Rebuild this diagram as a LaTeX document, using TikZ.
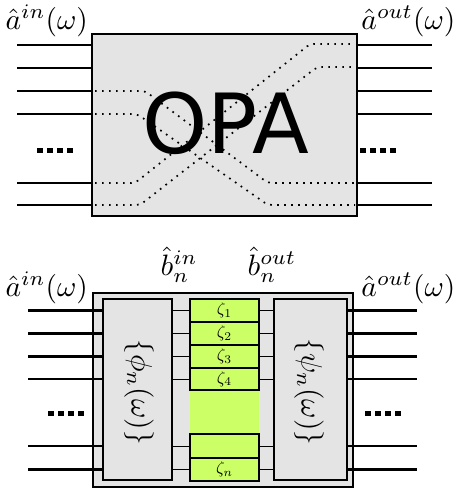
\documentclass[tikz,border=0pt]{standalone}
\usepackage{fontspec}
\newfontfamily\opafont{DejaVu Sans}
\definecolor{boxgray}{RGB}{228,228,228}
\definecolor{zgreen}{RGB}{204,255,102}
\begin{document}
\begin{tikzpicture}[x=1pt,y=-1pt,
  wire/.style={line width=2.6pt},
  thinwire/.style={line width=0.9pt},
  graybox/.style={draw, line width=2.4pt, fill=boxgray, inner sep=0pt},
  zbox/.style={draw, line width=2.4pt, fill=zgreen, inner sep=0pt, minimum width=69pt},
  zlab/.style={inner sep=0pt, scale=1.7},
  dotpath/.style={line width=1.7pt, dash pattern=on 1.7pt off 5.3pt, rounded corners=4pt},
  ellip/.style={line width=5pt, dash pattern=on 5.5pt off 4.5pt},
  lab/.style={inner sep=0pt, scale=2.95}
]
\useasboundingbox (0,0) rectangle (458,491);

% ---------- top panel ----------
\node[graybox, minimum width=265pt, minimum height=182pt] (opa) at (224.5,125) {};
\foreach \n/\y in {1/45,2/68,3/91,4/114,5/183,6/205}{
  \coordinate (tl\n) at (17,\y);
  \coordinate (tr\n) at (432,\y);
  \draw[wire] (tl\n) -- (opa.west |- tl\n);
  \draw[wire] (opa.east |- tr\n) -- (tr\n);
}
\draw[dotpath] (95,91) -- (145,91) -- (268,183) -- (355,183);
\draw[dotpath] (95,114) -- (137,114) -- (268,205) -- (355,205);
\draw[dotpath] (95,183) -- (135,183) -- (310,44) -- (355,44);
\draw[dotpath] (95,205) -- (140,205) -- (317,67) -- (355,67);
\node[inner sep=0pt, font=\opafont\fontsize{83}{83}\selectfont] (opatext) at (226,123) {OPA};
\coordinate (tdl1) at (37,150); \coordinate (tdl2) at (75,150);
\coordinate (tdr1) at (360,150); \coordinate (tdr2) at (398,150);
\draw[ellip] (tdl1) -- (tdl2);
\draw[ellip] (tdr1) -- (tdr2);
\node[lab, anchor=base west] (ain1) at (5,29) {$\hat{a}^{in}(\omega)$};
\node[lab, anchor=base east] (aout1) at (456,29) {$\hat{a}^{out}(\omega)$};

% ---------- bottom panel ----------
\node[graybox, minimum width=260pt, minimum height=194pt] (outer) at (223,390) {};
\node[graybox, minimum width=69pt, minimum height=181pt] (leftin) at (137.5,389.5) {};
\node[graybox, minimum width=73pt, minimum height=181pt] (rightin) at (310.5,389.5) {};
\fill[zgreen] (190,300) rectangle (259,480);
\node[zbox, minimum height=23pt] (z1) at (224.5,310.5) {};
\node[zbox, minimum height=23pt] (z2) at (224.5,333.5) {};
\node[zbox, minimum height=23pt] (z3) at (224.5,356.5) {};
\node[zbox, minimum height=22pt] (z4) at (224.5,379) {};
\node[zbox, minimum height=24pt] (z5) at (224.5,446) {};
\node[zbox, minimum height=23pt] (z6) at (224.5,469.5) {};
\node[zlab] (zl1) at (z1) {$\zeta_1$};
\node[zlab] (zl2) at (z2) {$\zeta_2$};
\node[zlab] (zl3) at (z3) {$\zeta_3$};
\node[zlab] (zl4) at (z4) {$\zeta_4$};
\node[zlab] (zl6) at (z6) {$\zeta_n$};
\foreach \n in {1,...,6}{
  \coordinate (bl\n) at (28,0 |- z\n);
  \coordinate (br\n) at (417,0 |- z\n);
  \draw[wire] (bl\n) -- (leftin.west |- z\n);
  \draw[wire] (rightin.east |- z\n) -- (br\n);
  \draw[thinwire] (leftin.east |- z\n) -- (z\n.west);
  \draw[thinwire] (z\n.east) -- (rightin.west |- z\n);
}
\node[lab, rotate=-90] (phi) at (139,392) {$\{\phi_n(\omega)\}$};
\node[lab, rotate=-90] (psi) at (309,392) {$\{\psi_n(\omega)\}$};
\coordinate (bdl1) at (48,413); \coordinate (bdl2) at (86,413);
\coordinate (bdr1) at (365,413); \coordinate (bdr2) at (403,413);
\draw[ellip] (bdl1) -- (bdl2);
\draw[ellip] (bdr1) -- (bdr2);
\node[lab, anchor=base west] (ain2) at (5,296) {$\hat{a}^{in}(\omega)$};
\node[lab, anchor=base east] (aout2) at (456,296) {$\hat{a}^{out}(\omega)$};
\node[lab, anchor=base west] (bin) at (160,275) {$\hat{b}_n^{in}$};
\node[lab, anchor=base west] (bout) at (247,275) {$\hat{b}_n^{out}$};
\end{tikzpicture}
\end{document}
